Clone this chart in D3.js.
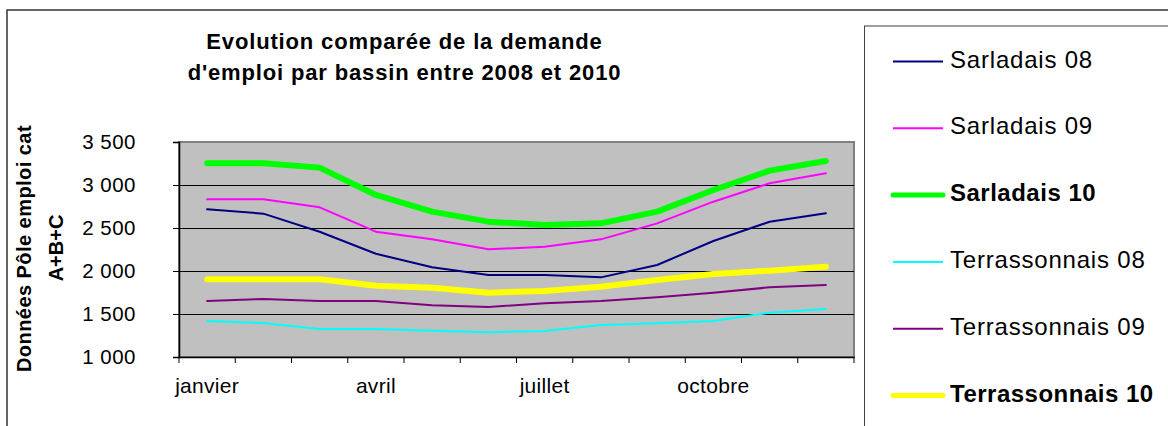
<!DOCTYPE html>
<html>
<head>
<meta charset="utf-8">
<script src="https://cdn.jsdelivr.net/npm/d3@7"></script>
<style>
  html, body { margin: 0; padding: 0; background: #fff; }
  svg { display: block; font-family: "Liberation Sans", Arial, sans-serif; }
</style>
</head>
<body>
<svg id="chart" width="1168" height="426"></svg>
<script>
const months = ["janvier","février","mars","avril","mai","juin","juillet","août","septembre","octobre","novembre","décembre"];
const shownMonths = ["janvier","avril","juillet","octobre"];
const yTicks = [1000, 1500, 2000, 2500, 3000, 3500];

const sarladais08 = [2717, 2667, 2457, 2201, 2043, 1953, 1953, 1926, 2070, 2349, 2573, 2671];
const sarladais09 = [2833, 2833, 2740, 2457, 2368, 2252, 2283, 2368, 2554, 2806, 3020, 3136];
const sarladais10 = [3252, 3252, 3202, 2884, 2690, 2574, 2535, 2554, 2690, 2942, 3167, 3279];
const terrassonnais08 = [1419, 1395, 1326, 1326, 1306, 1287, 1302, 1372, 1391, 1419, 1515, 1558];
const terrassonnais09 = [1651, 1674, 1651, 1651, 1601, 1581, 1624, 1651, 1694, 1748, 1810, 1837];
const terrassonnais10 = [1903, 1903, 1903, 1829, 1806, 1748, 1767, 1818, 1895, 1965, 2004, 2050];

const seriesNames = ["Sarladais 08","Sarladais 09","Sarladais 10","Terrassonnais 08","Terrassonnais 09","Terrassonnais 10"];
const seriesValues = [sarladais08, sarladais09, sarladais10, terrassonnais08, terrassonnais09, terrassonnais10];
const seriesColors = ["#000080","#FF00FF","#00FF00","#00FFFF","#800080","#FFFF00"];
const seriesWidths = [2, 2, 6, 2, 2, 6];
const seriesBold = [false, false, true, false, false, true];

const svg = d3.select("#chart");
const W = 1168, H = 426;
const plot = {left: 179, right: 854, top: 142, bottom: 357};

// outer chart border
svg.append("rect").attr("x", 7).attr("y", 10).attr("width", W + 10).attr("height", H + 10)
  .attr("fill", "#fff").attr("stroke", "#333").attr("stroke-width", 1.5);

// title
const title = svg.append("text").attr("text-anchor", "middle")
  .attr("font-weight", "bold").attr("font-size", 22).attr("letter-spacing", 0.85).attr("fill", "#000");
title.append("tspan").attr("x", 404.5).attr("y", 49).text("Evolution comparée de la demande");
title.append("tspan").attr("x", 404.5).attr("y", 80).text("d'emploi par bassin entre 2008 et 2010");

// scales
const x = d3.scaleBand().domain(months).range([plot.left, plot.right]).padding(0);
const y = d3.scaleLinear().domain([1000, 3500]).range([plot.bottom, plot.top]);

// plot background
svg.append("rect").attr("x", plot.left).attr("y", plot.top)
  .attr("width", plot.right - plot.left).attr("height", plot.bottom - plot.top)
  .attr("fill", "#C0C0C0").attr("stroke", "#808080").attr("stroke-width", 2);

// gridlines
svg.append("g").selectAll("line").data(yTicks.filter(v => v > 1000 && v < 3500)).join("line")
  .attr("x1", plot.left).attr("x2", plot.right)
  .attr("y1", d => Math.round(y(d)) + 0.5).attr("y2", d => Math.round(y(d)) + 0.5)
  .attr("stroke", "#000").attr("stroke-width", 1);

// y axis
const yAxis = svg.append("g").attr("transform", `translate(${plot.left},0)`)
  .call(d3.axisLeft(y).tickValues(yTicks).tickSize(6).tickPadding(37)
    .tickFormat(d => d3.format(",")(d).replace(/,/g, " ")));
yAxis.select(".domain").attr("stroke", "#000").attr("stroke-width", 1.5);
yAxis.selectAll(".tick line").attr("stroke", "#000");
yAxis.selectAll(".tick text").attr("font-size", 20.5).attr("letter-spacing", 0.5)
  .attr("font-family", "Liberation Sans, Arial, sans-serif").attr("fill", "#000");

// x axis (labels only from band centres)
const xAxis = svg.append("g").attr("transform", `translate(0,${plot.bottom})`)
  .call(d3.axisBottom(x).tickValues(shownMonths).tickSize(0).tickPadding(0));
xAxis.select(".domain").attr("stroke", "#000").attr("stroke-width", 1.5);
xAxis.selectAll(".tick text").attr("font-size", 21).attr("letter-spacing", 0.3)
  .attr("font-family", "Liberation Sans, Arial, sans-serif").attr("fill", "#000")
  .attr("y", 36).attr("dy", 0);
// boundary ticks
const boundaries = months.map(m => x(m)).concat([plot.right]);
svg.append("g").selectAll("line").data(boundaries).join("line")
  .attr("x1", d => d).attr("x2", d => d)
  .attr("y1", plot.bottom).attr("y2", plot.bottom + 6)
  .attr("stroke", "#000").attr("stroke-width", 1);

// y axis title
const yTitle = svg.append("g").attr("font-weight", "bold").attr("font-size", 20).attr("fill", "#000");
yTitle.append("text").attr("transform", "translate(31,248.5) rotate(-90)")
  .attr("text-anchor", "middle").attr("letter-spacing", 0.45).text("Données Pôle emploi cat");
yTitle.append("text").attr("transform", "translate(63,248) rotate(-90)")
  .attr("text-anchor", "middle").text("A+B+C");

// lines
const line = d3.line().x((d, i) => x(months[i]) + x.bandwidth() / 2).y(d => y(d));
const lines = svg.append("g");
seriesValues.forEach((vals, k) => {
  lines.append("path").datum(vals).attr("d", line)
    .attr("fill", "none").attr("stroke", seriesColors[k]).attr("stroke-width", seriesWidths[k])
    .attr("stroke-linejoin", "round").attr("stroke-linecap", "round");
});

// legend
svg.append("rect").attr("x", 864.5).attr("y", 26).attr("width", 400).attr("height", 500)
  .attr("fill", "#fff").attr("stroke", "#404040").attr("stroke-width", 1);
const leg = svg.append("g");
seriesNames.forEach((name, k) => {
  const cy = 61.5 + k * 66.8;
  leg.append("line").attr("x1", 893).attr("x2", 943).attr("y1", cy).attr("y2", cy)
    .attr("stroke", seriesColors[k]).attr("stroke-width", seriesBold[k] ? 5 : 2)
    .attr("stroke-linecap", seriesBold[k] ? "round" : "butt");
  leg.append("text").attr("x", 950).attr("y", cy + 6)
    .attr("font-size", 24).attr("letter-spacing", seriesBold[k] ? 0.5 : 0.8)
    .attr("font-weight", seriesBold[k] ? "bold" : "normal").attr("fill", "#000").text(name);
});
</script>
</body>
</html>
